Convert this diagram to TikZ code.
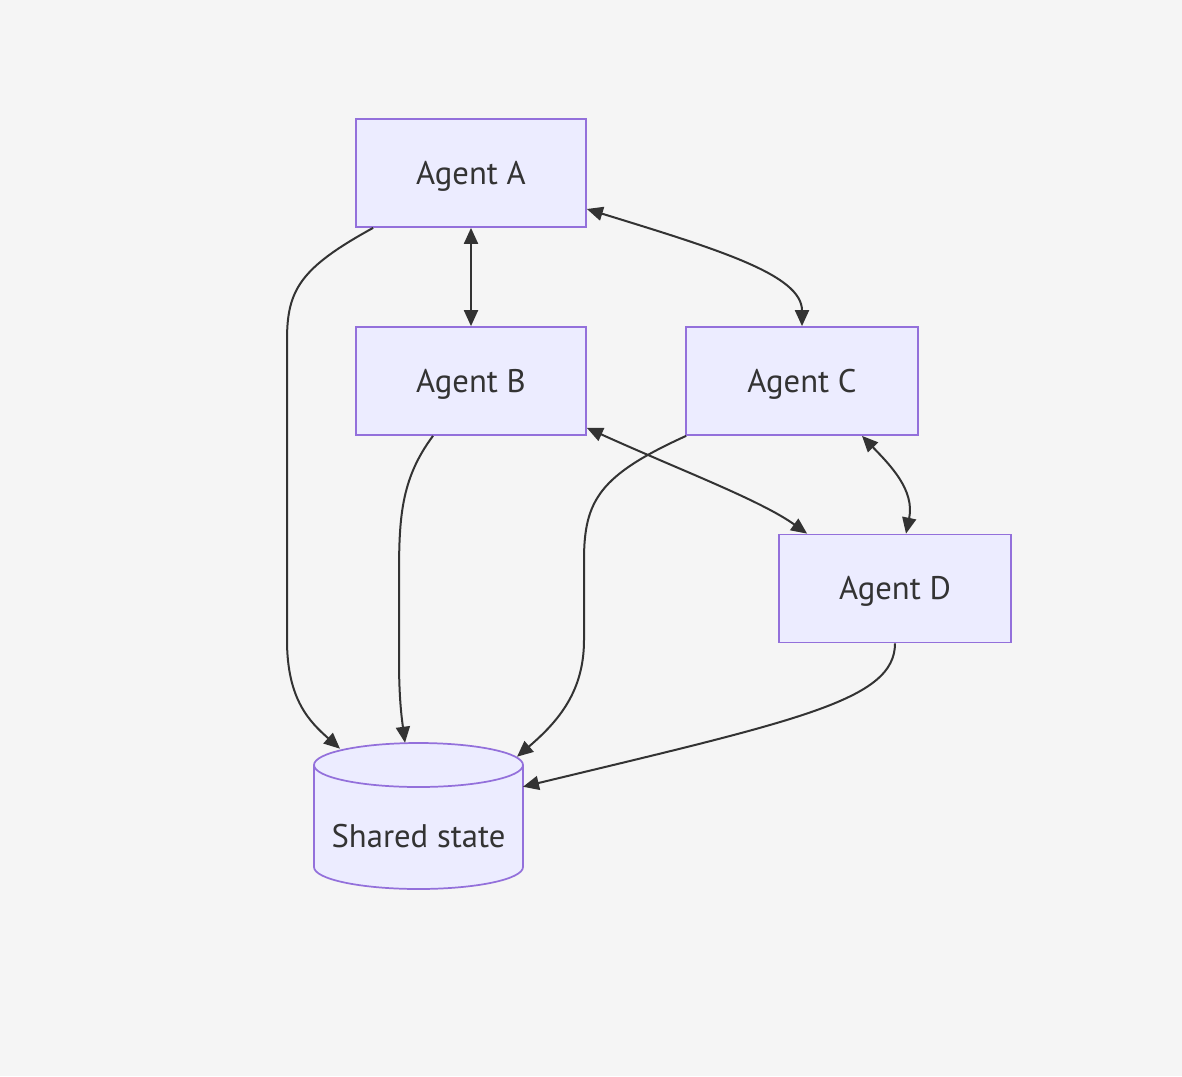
\documentclass[tikz,border=0pt]{standalone}
\usepackage{fontspec}
\setmainfont{PT Sans}
\usetikzlibrary{arrows.meta,calc}
\definecolor{bg}{HTML}{F5F5F5}
\definecolor{nodefill}{HTML}{ECECFF}
\definecolor{nodeborder}{HTML}{9370DB}
\definecolor{ink}{HTML}{333333}
\tikzset{
  agent/.style={draw=nodeborder, fill=nodefill, line width=1.3pt, minimum width=172.5pt, minimum height=81pt, inner sep=0pt, text=ink, text height=17pt, text depth=0pt, font=\fontsize{24.5}{28}\selectfont},
  link/.style={draw=ink, line width=1.5pt, -{Triangle[length=12pt,width=10.5pt]}},
  dlink/.style={draw=ink, line width=1.5pt, {Triangle[length=12pt,width=10.5pt]}-{Triangle[length=12pt,width=10.5pt]}},
}
\begin{document}
\begin{tikzpicture}[x=0.75pt,y=-0.75pt]
\fill[bg] (0,0) rectangle (1182,1076);
\useasboundingbox (0,0) rectangle (1182,1076);
\node[agent] (A) at (471,173) {Agent A};
\node[agent] (B) at (471,381) {Agent B};
\node[agent, minimum width=174pt] (C) at (802,381) {Agent C};
\node[agent, minimum width=174pt] (D) at (895,588.5) {Agent D};
% cylinder
\node[minimum width=156.75pt, minimum height=109.5pt, inner sep=0pt] (S) at (418.5,816) {};
\draw[draw=nodeborder, fill=nodefill, line width=1.3pt]
  (314,765) -- (314,867) arc[start angle=180, end angle=0, x radius=104.5, y radius=22] -- (523,765)
  arc[start angle=360, end angle=180, x radius=104.5, y radius=22] -- cycle;
\draw[draw=nodeborder, line width=1.3pt] (314,765) arc[start angle=180, end angle=0, x radius=104.5, y radius=22];
\node[text=ink, inner sep=0pt, text height=17pt, text depth=0pt, font=\fontsize{24.5}{28}\selectfont] (St) at (418.5,836) {Shared state};
% edges
\draw[link] ($(A.south west)+(18,0)$) .. controls (300,268) and (287,290) .. (287,340) -- (287,640) .. controls (287,700) and (310,722) .. ($(S.north)+(-78.5,6)$);
\draw[dlink] (A.south) -- (B.north);
\draw[dlink] ($(A.east)+(0,36)$) .. controls (720,250) and (802,275) .. ($(C.north)$);
\draw[link] ($(B.south)+(-38,0)$) .. controls (400,480) and (399,520) .. (399,580) -- (399,660) .. controls (399,700) and (402,720) .. ($(S.north)+(-13.5,0)$);
\draw[link] ($(C.south west)+(1,0)$) .. controls (600,475) and (584,500) .. (584,560) -- (584,640) .. controls (584,690) and (560,720) .. ($(S.north)+(98.5,14)$);
\draw[dlink] ($(B.south east)+(0,-8)$) .. controls (680,470) and (760,500) .. ($(D.north west)+(29,0)$);
\draw[dlink] ($(C.south)+(60,0)$) .. controls (890,465) and (915,490) .. ($(D.north)+(11,0)$);
\draw[link] (D.south) .. controls (895,700) and (800,720) .. ($(S.north east)+(-0.3,44)$);
\end{tikzpicture}
\end{document}
